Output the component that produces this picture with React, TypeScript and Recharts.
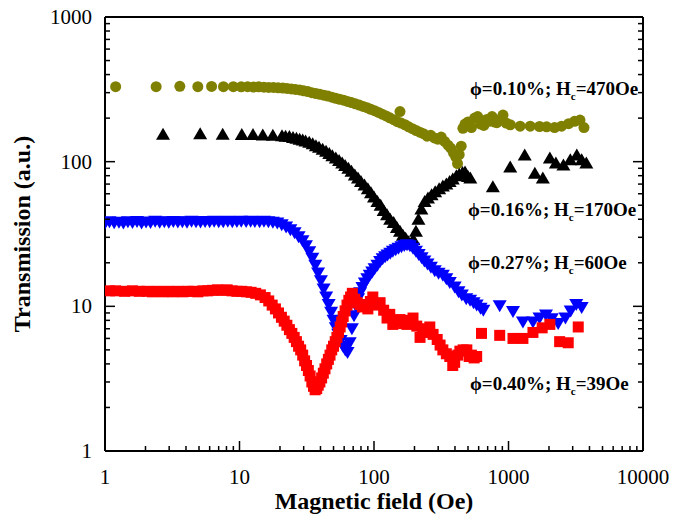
import { ScatterChart, Scatter, XAxis, YAxis, Label } from 'recharts';

// phi = 0.10 %, Hc = 470 Oe (olive circles)
const fieldA = [1.2, 2.4, 3.6, 4.9, 6.2, 7.6, 9.0, 10.3, 11.5, 12.7, 13.9, 15.2, 16.5, 17.9, 19.4, 21.0, 22.6, 24.3, 26.1, 28.0, 30.0, 32.2, 34.5, 37.0, 39.6, 42.4, 45.4, 48.6, 52.0, 55.6, 59.5, 63.6, 68.0, 72.7, 77.7, 83.0, 88.7, 94.8, 101, 108, 115, 123, 131, 140, 149, 156, 159, 170, 181, 193, 206, 219, 233, 248, 264, 281, 298, 316, 335, 355, 372, 390, 405, 418, 430, 445, 458, 475, 500, 530, 560, 590, 620, 655, 690, 720, 755, 790, 820, 870, 910, 960, 1030, 1220, 1450, 1700, 1920, 2200, 2480, 2800, 3100, 3400, 3640];
const transA = [330, 330, 332, 330, 331, 330, 330, 329, 330, 328, 329, 327, 326, 326, 324, 323, 321, 318, 316, 313, 309, 305, 300, 296, 292, 288, 284, 279, 274, 270, 266, 261, 256, 251, 246, 241, 236, 230, 225, 219, 213, 207, 201, 195, 189, 222, 185, 180, 174, 169, 164, 160, 156, 150, 152, 146, 143, 148, 138, 130, 124, 115, 108, 97, 112, 128, 170, 182, 188, 172, 200, 205, 182, 178, 196, 190, 205, 188, 186, 196, 210, 185, 180, 176, 176, 175, 174, 172, 176, 183, 190, 194, 172];

// phi = 0.16 %, Hc = 170 Oe (black triangles)
const fieldB = [2.7, 5.1, 7.5, 10.4, 12.6, 14.9, 17.7, 20.7, 22, 23.5, 25, 26.5, 28, 29.5, 31, 33, 35, 37, 39, 41.5, 44, 46.5, 49, 52, 55, 58, 61, 64.5, 68, 72, 76, 80, 85, 90, 95, 100, 106, 112, 118, 125, 132, 140, 148, 156, 164, 172, 180, 188, 196, 205, 214, 225, 238, 252, 268, 285, 305, 325, 345, 365, 385, 410, 430, 455, 475, 500, 520, 765, 1030, 1320, 1570, 1800, 2030, 2250, 2560, 2880, 3220, 3500, 3790];
const transB = [155, 156, 155, 154, 154, 153, 152, 151, 150, 149, 147, 145, 143, 141, 139, 136, 133, 129, 126, 122, 118, 114, 110, 106, 102, 98, 94, 90, 86, 81, 77, 73, 69, 65, 61, 57, 53, 50, 46, 43, 40, 38, 35, 33, 31, 29.5, 28, 27, 29, 33, 40, 47, 53, 56, 59, 62, 65, 68, 70, 73, 76, 80, 82, 84, 85, 79, 77, 67, 92, 111, 83, 77, 106, 98, 95, 103, 111, 103, 98];

// phi = 0.27 %, Hc = 60 Oe (blue down triangles)
const fieldC = [1.0, 1.08, 1.17, 1.27, 1.37, 1.48, 1.6, 1.73, 1.87, 2.02, 2.18, 2.36, 2.55, 2.76, 2.98, 3.22, 3.48, 3.76, 4.07, 4.4, 4.75, 5.13, 5.55, 6.0, 6.48, 7.0, 7.57, 8.18, 8.84, 9.56, 10.3, 11.2, 12.1, 13.0, 14.1, 15.2, 16.4, 17.7, 19.1, 20.6, 22.2, 23.9, 25.7, 27.5, 29.4, 31.2, 33.0, 34.8, 36.6, 38.4, 40.3, 42.2, 44.1, 46.0, 48.0, 50.0, 52.0, 54.2, 56.5, 58.8, 61.2, 63.6, 66.0, 68.5, 71.0, 73.5, 76.2, 78.9, 82.0, 85.5, 89.2, 93.0, 97.0, 101, 106, 111, 116, 121, 126, 132, 138, 145, 152, 160, 168, 176, 185, 195, 205, 215, 226, 237, 250, 265, 283, 302, 325, 345, 366, 398, 425, 450, 485, 518, 550, 580, 620, 650, 860, 1080, 1280, 1520, 1700, 1900, 2100, 2340, 2650, 2900, 3190, 3500];
const transC = [37.5, 38.5, 37.8, 38.2, 37.6, 38.4, 37.9, 38.6, 37.7, 38.3, 38.0, 38.7, 38.1, 38.4, 38.2, 38.6, 38.3, 38.5, 38.2, 38.7, 38.4, 38.3, 38.6, 38.4, 38.7, 38.5, 38.4, 38.8, 38.5, 38.6, 38.7, 38.6, 38.8, 38.6, 38.5, 38.7, 38.4, 38.2, 37.6, 36.6, 35.3, 33.8, 32.2, 30.3, 28.4, 26.2, 23.8, 21.5, 19.2, 17.0, 15.0, 13.2, 11.6, 10.3, 9.1, 8.0, 7.1, 6.4, 5.8, 5.3, 5.0, 4.8, 5.6, 7.0, 8.6, 10.0, 11.3, 12.4, 13.5, 14.5, 15.5, 16.4, 17.3, 18.2, 19.2, 20.4, 21.3, 22.0, 22.6, 23.3, 24.0, 24.6, 25.2, 25.8, 26.3, 26.6, 26.2, 25.2, 24.0, 22.8, 21.7, 20.6, 19.6, 18.6, 17.6, 16.9, 16.4, 15.5, 14.6, 13.6, 12.6, 12.0, 11.3, 11.0, 10.6, 10.2, 9.7, 9.4, 10.1, 9.2, 7.8, 7.8, 8.3, 8.7, 8.2, 7.6, 8.3, 9.3, 10.3, 9.8];

// phi = 0.40 %, Hc = 39 Oe (red squares)
const fieldD = [1.08, 1.2, 1.4, 1.6, 1.8, 2.05, 2.25, 2.45, 2.7, 2.95, 3.2, 3.5, 3.8, 4.15, 4.5, 4.9, 5.35, 5.8, 6.3, 6.85, 7.45, 8.1, 8.8, 9.55, 10.4, 11.3, 12.2, 13.2, 14.3, 15.5, 16.5, 17.5, 18.5, 19.5, 20.5, 21.5, 22.5, 23.5, 24.5, 25.5, 26.5, 27.5, 28.5, 29.5, 30.5, 31.5, 32.5, 33.5, 34.5, 35.5, 36.5, 37.5, 38.5, 39.6, 40.8, 42.0, 43.2, 44.5, 45.8, 47.1, 48.5, 50, 51.5, 53, 54.5, 56, 57.5, 59, 61, 63, 65, 67, 69, 72, 75, 78.7, 82, 86, 90, 94, 98, 104, 111, 118, 125, 131, 138, 147, 156, 166, 176, 186, 195, 208, 220, 230, 240, 250, 260, 275, 295, 310, 325, 345, 366, 385, 398, 420, 435, 460, 490, 510, 530, 555, 580, 630, 860, 1080, 1280, 1520, 1780, 2030, 2400, 2780, 3300];
const transD = [12.8, 12.8, 12.7, 12.8, 12.7, 12.7, 12.6, 12.7, 12.6, 12.7, 12.6, 12.7, 12.6, 12.7, 12.7, 12.6, 12.8, 12.8, 12.9, 13.0, 12.9, 13.0, 12.8, 12.7, 12.7, 12.6, 12.5, 12.3, 12.0, 11.5, 10.9, 10.2, 9.6, 9.0, 8.4, 7.9, 7.4, 6.9, 6.5, 6.1, 5.7, 5.3, 5.0, 4.6, 4.2, 3.9, 3.6, 3.3, 3.0, 2.8, 2.65, 2.7, 2.85, 3.0, 3.2, 3.45, 3.7, 4.0, 4.3, 4.6, 5.0, 5.3, 5.7, 6.1, 6.6, 7.2, 7.8, 8.5, 9.3, 10.2, 11.0, 11.6, 12.3, 11.2, 10.6, 10.3, 9.9, 10.2, 9.6, 10.8, 11.6, 10.2, 10.6, 9.4, 8.3, 8.8, 7.5, 7.9, 8.1, 7.6, 7.5, 8.0, 8.3, 7.3, 6.1, 6.6, 6.6, 7.0, 7.2, 6.4, 5.9, 5.4, 5.0, 4.7, 4.5, 3.9, 4.1, 4.6, 4.9, 5.0, 5.0, 4.5, 4.6, 4.4, 4.5, 6.5, 6.3, 6.0, 6.0, 6.6, 7.1, 7.5, 5.7, 5.6, 7.2];

const decadesX = [1, 10, 100, 1000, 10000];
const decadesY = [1, 10, 100, 1000];
const mult = [1, 2, 3, 4, 5, 6, 7, 8, 9];

const xTicks = decadesX.flatMap((d) => (d === 10000 ? [d] : mult.map((m) => m * d)));
const yTicks = decadesY.flatMap((d) => (d === 1000 ? [d] : mult.map((m) => m * d)));

const FONT = '"Liberation Serif", "Times New Roman", serif';
const pts = (xs: number[], ys: number[]) => xs.map((h, i) => ({ h, t: ys[i] }));

const isMajor = (v: number) => Math.abs(Math.log10(v) - Math.round(Math.log10(v))) < 1e-9;

function BottomTick({ x, y, payload }: any) {
  const major = isMajor(payload.value);
  return (
    <g>
      <line x1={x} x2={x} y1={y} y2={y - (major ? 10 : 5)} stroke="#000" strokeWidth={1.5} />
      {major && (
        <text x={x} y={y + 33} textAnchor="middle" fontFamily={FONT} fontSize={21} fill="#000">
          {payload.value}
        </text>
      )}
    </g>
  );
}

function TopTick({ x, y, payload }: any) {
  const major = isMajor(payload.value);
  return <line x1={x} x2={x} y1={y} y2={y + (major ? 10 : 5)} stroke="#000" strokeWidth={1.5} />;
}

function LeftTick({ x, y, payload }: any) {
  const major = isMajor(payload.value);
  return (
    <g>
      <line x1={x} x2={x + (major ? 10 : 5)} y1={y} y2={y} stroke="#000" strokeWidth={1.5} />
      {major && (
        <text x={x - 13} y={y + 7} textAnchor="end" fontFamily={FONT} fontSize={21} fill="#000">
          {payload.value}
        </text>
      )}
    </g>
  );
}

function RightTick({ x, y, payload }: any) {
  const major = isMajor(payload.value);
  return <line x1={x} x2={x - (major ? 10 : 5)} y1={y} y2={y} stroke="#000" strokeWidth={1.5} />;
}

const Circle = ({ cx, cy }: any) => <circle cx={cx} cy={cy} r={5.5} fill="#808000" />;
const TriUp = ({ cx, cy }: any) => (
  <polygon points={`${cx},${cy - 6.5} ${cx - 7},${cy + 5.5} ${cx + 7},${cy + 5.5}`} fill="#000" />
);
const TriDown = ({ cx, cy }: any) => (
  <polygon points={`${cx - 7},${cy - 5.5} ${cx + 7},${cy - 5.5} ${cx},${cy + 6.5}`} fill="#0000ff" />
);
const Square = ({ cx, cy }: any) => <rect x={cx - 5.5} y={cy - 5.5} width={11} height={11} fill="#ff0000" />;

const XTitle = ({ viewBox }: any) => (
  <text
    x={viewBox.x + viewBox.width / 2}
    y={viewBox.y + viewBox.height - 10}
    textAnchor="middle"
    fontFamily={FONT}
    fontWeight="bold"
    fontSize={24}
    fill="#000"
  >
    Magnetic field (Oe)
  </text>
);

const YTitle = ({ viewBox }: any) => {
  const cx = viewBox.x + 30;
  const cy = viewBox.y + viewBox.height / 2;
  return (
    <text
      x={cx}
      y={cy}
      transform={`rotate(-90 ${cx} ${cy})`}
      textAnchor="middle"
      fontFamily={FONT}
      fontWeight="bold"
      fontSize={24}
      fill="#000"
    >
      Transmission (a.u.)
    </text>
  );
};

const notes = [
  { phi: '0.10', hc: '470', x: 470, y: 95 },
  { phi: '0.16', hc: '170', x: 468, y: 216 },
  { phi: '0.27', hc: '60', x: 468, y: 269 },
  { phi: '0.40', hc: '39', x: 470, y: 390 },
];

export default function App() {
  return (
    <div style={{ position: 'absolute', left: 0, top: 0, width: 673, height: 519, background: '#fff' }}>
      <ScatterChart width={673} height={519} margin={{ top: 0, right: 0, bottom: 0, left: 0 }}>
        <XAxis
          xAxisId="b"
          type="number"
          dataKey="h"
          scale="log"
          domain={[1, 10000]}
          ticks={xTicks}
          interval={0}
          allowDataOverflow
          height={68}
          tickSize={0}
          tickMargin={0}
          tickLine={false}
          axisLine={{ stroke: '#000', strokeWidth: 2 }}
          tick={(p: any) => <BottomTick {...p} />}
        >
          <Label content={XTitle} />
        </XAxis>
        <XAxis
          xAxisId="t"
          orientation="top"
          type="number"
          scale="log"
          domain={[1, 10000]}
          ticks={xTicks}
          interval={0}
          allowDataOverflow
          height={17}
          tickSize={0}
          tickMargin={0}
          tickLine={false}
          axisLine={{ stroke: '#000', strokeWidth: 2 }}
          tick={(p: any) => <TopTick {...p} />}
        />
        <YAxis
          yAxisId="l"
          type="number"
          dataKey="t"
          scale="log"
          domain={[1, 1000]}
          ticks={yTicks}
          interval={0}
          allowDataOverflow
          width={105}
          tickSize={0}
          tickMargin={0}
          tickLine={false}
          axisLine={{ stroke: '#000', strokeWidth: 2 }}
          tick={(p: any) => <LeftTick {...p} />}
        >
          <Label content={YTitle} />
        </YAxis>
        <YAxis
          yAxisId="r"
          orientation="right"
          type="number"
          scale="log"
          domain={[1, 1000]}
          ticks={yTicks}
          interval={0}
          allowDataOverflow
          width={30}
          tickSize={0}
          tickMargin={0}
          tickLine={false}
          axisLine={{ stroke: '#000', strokeWidth: 2 }}
          tick={(p: any) => <RightTick {...p} />}
        />
        <Scatter xAxisId="b" yAxisId="l" data={pts(fieldA, transA)} shape={Circle} isAnimationActive={false} />
        <Scatter xAxisId="b" yAxisId="l" data={pts(fieldB, transB)} shape={TriUp} isAnimationActive={false} />
        <Scatter xAxisId="b" yAxisId="l" data={pts(fieldC, transC)} shape={TriDown} isAnimationActive={false} />
        <Scatter xAxisId="b" yAxisId="l" data={pts(fieldD, transD)} shape={Square} isAnimationActive={false} />
      </ScatterChart>
      <svg width={673} height={519} style={{ position: 'absolute', left: 0, top: 0, pointerEvents: 'none' }}>
        {notes.map((n) => (
          <text key={n.phi} x={n.x} y={n.y} fontFamily={FONT} fontWeight="bold" fontSize={19} fill="#000">
            {`ϕ=${n.phi}%; H`}
            <tspan dy={5} fontSize={11}>c</tspan>
            <tspan dy={-5}>{`=${n.hc}Oe`}</tspan>
          </text>
        ))}
      </svg>
    </div>
  );
}
